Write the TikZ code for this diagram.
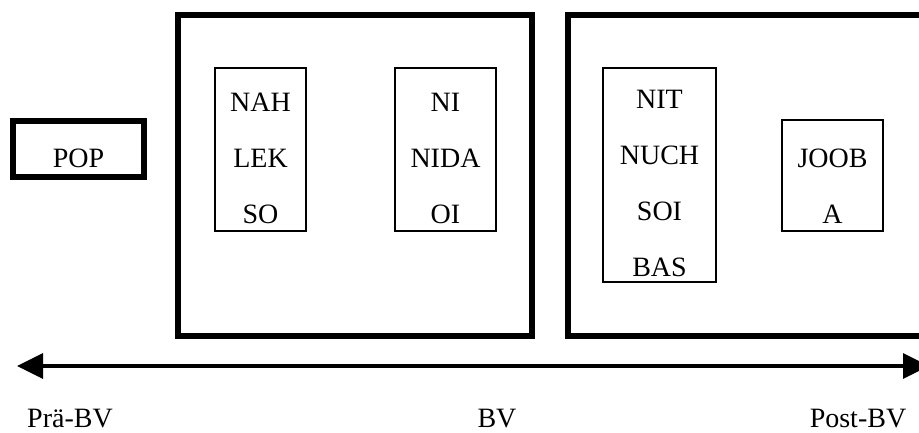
\documentclass[tikz,border=0pt]{standalone}
\usepackage{fontspec}
\setmainfont{Liberation Serif}
\usepackage{tikz}
\usetikzlibrary{arrows.meta}

\tikzset{
  phase/.style={draw, line width=6pt, inner sep=0pt},
  stage/.style={draw, line width=1.5pt, inner sep=0pt},
  word/.style={font=\fontsize{28}{56}\selectfont, align=center, anchor=base, inner sep=0pt}
}

\begin{document}
\begin{tikzpicture}[x=1pt,y=-1pt]
\clip (0,0) rectangle (919,432);

		% POP
		\node[phase, minimum width=131pt, minimum height=56pt] (popbox) at (78.5,149) {};
		\node[word] (pop) at (78.5,167) {POP};

		% BV (base = last line)
		\node[phase, minimum width=354pt, minimum height=321pt] (bvbox) at (355,175.5) {};
		\node[stage, minimum width=91pt, minimum height=163pt] (nahbox) at (260.5,149.5) {};
		\node[word] (nah) at (260.5,223) {NAH\\LEK\\SO};
		\node[stage, minimum width=101pt, minimum height=163pt] (nibox) at (445.5,149.5) {};
		\node[word] (ni) at (445.5,223) {NI\\NIDA\\OI};

		% Post-BV
		\node[phase, minimum width=380pt, minimum height=321pt] (postbox) at (758,175.5) {};
		\node[stage, minimum width=113pt, minimum height=214pt] (nitbox) at (659.5,175) {};
		\node[word] (nit) at (659.5,276) {NIT\\NUCH\\SOI\\BAS};
		\node[stage, minimum width=101pt, minimum height=111pt] (joobbox) at (832.5,175.5) {};
		\node[word] (joob) at (832.5,223) {JOOB\\A};

		% time line
		\coordinate (start) at (17,366);
		\coordinate (end) at (929,366);
		\draw[line width=3.5pt, {Triangle[length=26pt,width=25pt]}-{Triangle[length=26pt,width=25pt]}] (start) -- (end);
		\node[word] (pre) at (70,427) {Prä-BV};
		\node[word] (bv) at (497,427) {BV};
		\node[word] (post) at (858,427) {Post-BV};
\end{tikzpicture}
\end{document}
